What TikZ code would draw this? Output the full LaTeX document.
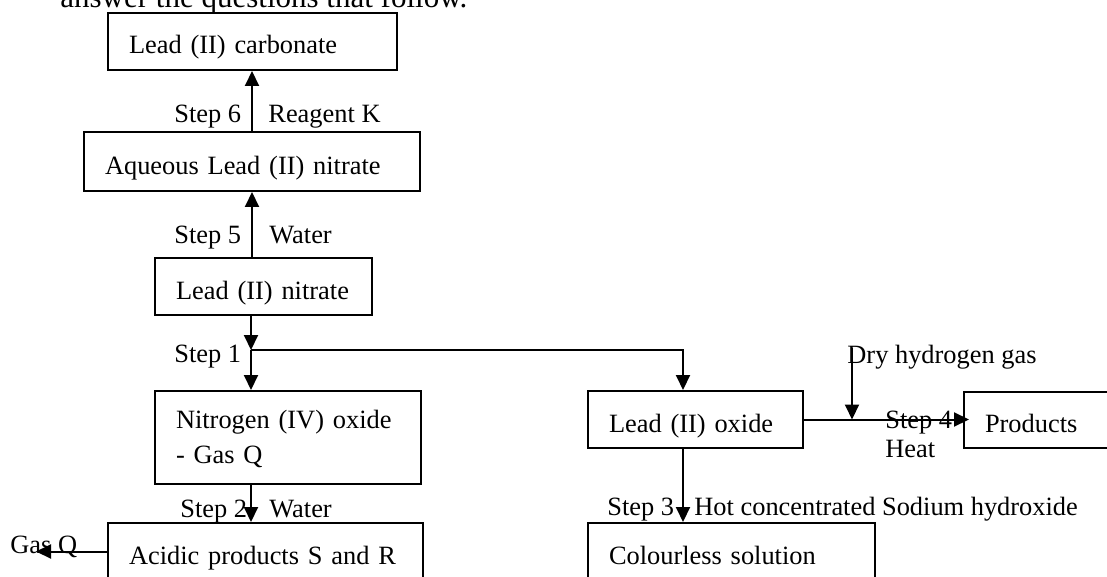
\documentclass[tikz,border=0pt]{standalone}
\usepackage{fontspec}
\setmainfont{Liberation Serif}
\usetikzlibrary{arrows.meta, calc}
\tikzset{
	stage/.style={rectangle, draw, line width=1pt, anchor=north west,
		inner xsep=10.5pt, inner ysep=0pt, text height=20.5pt,
		text depth=8pt, align=left},
	note/.style={anchor=base west, inner sep=0pt},
	myarrow/.style={-{Triangle[length=7.5pt, width=7pt]}, line width=1pt}
}
\begin{document}
\begin{tikzpicture}[x=0.5pt, y=-0.5pt, font=\fontsize{13.2}{16}\selectfont]
	\useasboundingbox (0,0) rectangle (1107,577);
	\clip (0,0) rectangle (1107,577);
	
	%% question text, cut at the top
	\node[note, font=\fontsize{15.5}{18}\selectfont] (intro) at (60,8)
	{answer the questions that follow.};
	
	%% left column
	\node[stage, text width=123.5pt] (carb) at (107,12) {Lead (II) carbonate};
	\node[stage, text width=147pt, text height=21.5pt] (aq) at (83,131)
	{Aqueous Lead (II) nitrate};
	\node[stage, text width=87.5pt] (nitrate) at (154,257) {Lead (II) nitrate};
	\node[stage, text width=112pt, text height=18.5pt, text depth=28pt,
	font=\fontsize{13.2}{17.5}\selectfont] (no2) at (154,390)
	{Nitrogen (IV) oxide\\- Gas Q};
	\node[stage, text width=136.5pt] (acidic) at (107,522) {Acidic products S and R};
	
	%% right column
	\node[stage, text width=86.5pt] (oxide) at (587,390) {Lead (II) oxide};
	\node[stage, text width=70pt, text height=20pt] (products) at (963,391) {Products};
	\node[stage, text width=122.5pt] (colourless) at (587,522) {Colourless solution};
	
	\coordinate (split) at (251,350);
	\coordinate (branch) at (683,350);
	\coordinate (h2top) at (852,348);
	\coordinate (gasend) at (36,550);
	
	%% arrows
	\draw[myarrow] (aq.north) -- (aq.north |- carb.south);
	\draw[myarrow] (aq.south |- nitrate.north) -- (aq.south);
	\draw[myarrow] (split |- nitrate.south) -- (split);
	\draw[myarrow] (split) -- (split |- no2.north);
	\draw[myarrow] (split) -- (branch) -- (branch |- oxide.north);
	\draw[myarrow] (split |- no2.south) -- (split |- acidic.north);
	\draw[myarrow] (acidic.west) -- (gasend |- acidic.west);
	\draw[myarrow] (branch |- oxide.south) -- (branch |- colourless.north);
	\draw[myarrow, shorten >=-3pt] (oxide.east) -- (oxide.east -| products.west);
	\draw[myarrow] (h2top) -- (h2top |- oxide.east);
	
	%% step labels
	\node[note] (s6) at (174,123) {Step 6};
	\node[note] (reagent) at (268,123) {Reagent K};
	\node[note] (s5) at (174,243) {Step 5};
	\node[note] (water5) at (269,243) {Water};
	\node[note] (s1) at (174,362) {Step 1};
	\node[note] (s2) at (180,517) {Step 2};
	\node[note] (water2) at (269,517) {Water};
	\node[note] (gasq) at (10,553) {Gas Q};
	\node[note] (h2) at (847,363) {Dry hydrogen gas};
	\node[note] (s4) at (885,428) {Step 4};
	\node[note] (heat) at (885,457) {Heat};
	\node[note] (s3) at (607,515) {Step 3};
	\node[note] (naoh) at (694,515) {Hot concentrated Sodium hydroxide};
	
\end{tikzpicture}
\end{document}
